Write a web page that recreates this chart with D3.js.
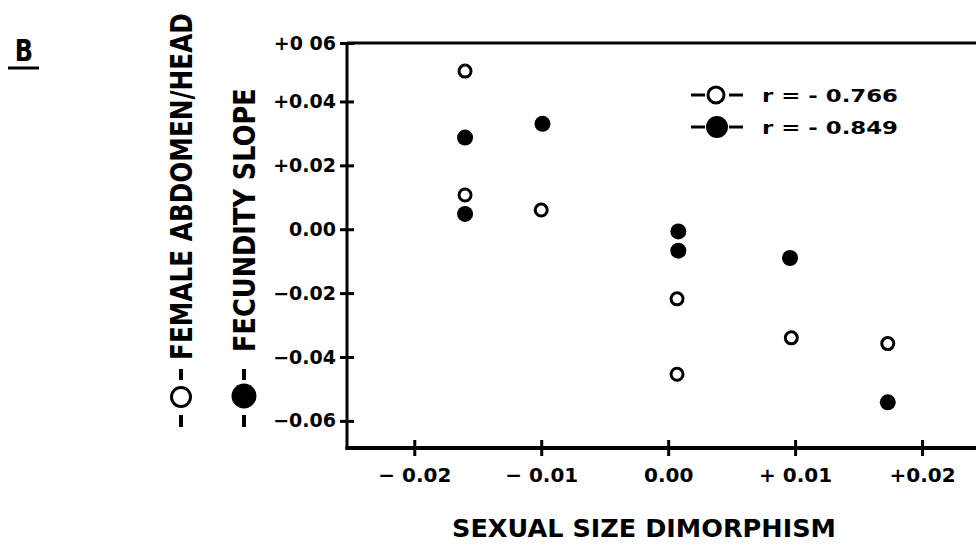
<!DOCTYPE html>
<html>
<head>
<meta charset="utf-8">
<script src="https://cdn.jsdelivr.net/npm/d3@7"></script>
<style>
  body { margin: 0; background: #fff; }
  text { font-family: "DejaVu Sans", sans-serif; font-weight: bold; fill: #000; }
</style>
</head>
<body>
<div id="graph"></div>
<script>
// values
const openX   = [-0.0160, -0.0160, -0.0100, 0.0007, 0.0007, 0.0097, 0.0173];
const openY   = [ 0.0495,  0.0107,  0.0060, -0.0218, -0.0454, -0.0340, -0.0358];
const filledX = [-0.0160, -0.0099, -0.0160, 0.0008, 0.0008, 0.0096, 0.0173];
const filledY = [ 0.0287,  0.0330,  0.0048, -0.0007, -0.0067, -0.0090, -0.0542];

const xTicks = [-0.02, -0.01, 0, 0.01, 0.02];
const xTickLabels = ["\u2212 0.02", "\u2212 0.01", "0.00", "+ 0.01", "+0.02"];
const yTicks = [0.06, 0.04, 0.02, 0, -0.02, -0.04, -0.06];
const yTickLabels = ["+0 06", "+0.04", "+0.02", "0.00", "\u22120.02", "\u22120.04", "\u22120.06"];
const legendLabels = ["r = - 0.766", "r = - 0.849"];

const width = 976, height = 547;
const margin = {top: 43, right: 0, bottom: 98, left: 347};
const plotW = width - margin.left - margin.right;
const plotH = height - margin.top - margin.bottom;

let svg = d3.select('#graph')
    .append("svg")
    .attr("width", width)
    .attr("height", height);

let g = svg.append("g")
    .attr("transform", `translate(${margin.left}, ${margin.top})`);

let x = d3.scaleLinear()
    .domain([-0.0253, 0.02425])
    .range([0, plotW]);

let y = d3.scaleLinear()
    .domain([-0.0688, 0.0583])
    .range([plotH, 0])
    .clamp(true);

// frame: top line and left axis
g.append("line")
    .attr("x1", 0).attr("x2", plotW)
    .attr("y1", 0).attr("y2", 0)
    .attr("stroke", "#000").attr("stroke-width", 3);

let yAxis = g.append("g")
    .call(d3.axisLeft(y).tickValues(yTicks).tickSize(7).tickPadding(4)
        .tickFormat((d, i) => yTickLabels[i]));
yAxis.select(".domain").remove();
yAxis.append("line")
    .attr("x1", 0).attr("x2", 0).attr("y1", 0).attr("y2", plotH + 1)
    .attr("stroke", "#000").attr("stroke-width", 3);
yAxis.selectAll(".tick line")
    .attr("x1", 7).attr("x2", -7)
    .attr("stroke-width", 3);
yAxis.selectAll(".tick text")
    .style("font-size", "19px")
    .style("font-family", "DejaVu Sans")
    .style("font-weight", "bold");

let xAxis = g.append("g")
    .attr("transform", `translate(0, ${plotH - 1})`)
    .call(d3.axisBottom(x).tickValues(xTicks).tickSize(8).tickPadding(12)
        .tickFormat((d, i) => xTickLabels[i]));
xAxis.select(".domain").remove();
xAxis.append("line")
    .attr("x1", -1.5).attr("x2", plotW).attr("y1", 0).attr("y2", 0)
    .attr("stroke", "#000").attr("stroke-width", 4);
xAxis.selectAll(".tick line")
    .attr("y1", -8).attr("y2", 8)
    .attr("stroke-width", 3);
xAxis.selectAll(".tick text")
    .style("font-size", "20px")
    .style("font-family", "DejaVu Sans")
    .style("font-weight", "bold");

// points
const openData = openX.map((d, i) => ({x: d, y: openY[i]}));
const filledData = filledX.map((d, i) => ({x: d, y: filledY[i]}));

g.selectAll(".open").data(openData).enter()
    .append("circle")
    .attr("class", "open")
    .attr("cx", d => x(d.x))
    .attr("cy", d => y(d.y))
    .attr("r", 6)
    .attr("fill", "#fff")
    .attr("stroke", "#000")
    .attr("stroke-width", 3);

g.selectAll(".filled").data(filledData).enter()
    .append("circle")
    .attr("class", "filled")
    .attr("cx", d => x(d.x))
    .attr("cy", d => y(d.y))
    .attr("r", 8)
    .attr("fill", "#000");

// legend
let legend = svg.append("g");
legendLabels.forEach(function(label, i) {
    let ly = 95 + i * 32;
    let item = legend.append("g").attr("transform", `translate(0, ${ly})`);
    item.append("line").attr("x1", 691).attr("x2", 705).attr("y1", 0).attr("y2", 0)
        .attr("stroke", "#000").attr("stroke-width", 3);
    item.append("line").attr("x1", 729).attr("x2", 743).attr("y1", 0).attr("y2", 0)
        .attr("stroke", "#000").attr("stroke-width", 3);
    if (i == 0) {
        item.append("circle").attr("cx", 716).attr("cy", 0).attr("r", 8)
            .attr("fill", "#fff").attr("stroke", "#000").attr("stroke-width", 3);
    } else {
        item.append("circle").attr("cx", 717).attr("cy", 0).attr("r", 11)
            .attr("fill", "#000");
    }
    item.append("text")
        .attr("x", 762).attr("y", 6.5)
        .attr("textLength", 136)
        .attr("lengthAdjust", "spacingAndGlyphs")
        .style("font-size", "18px")
        .text(label);
});

// panel label
svg.append("text")
    .attr("transform", "translate(24, 61) scale(0.8, 1)")
    .style("text-anchor", "middle")
    .style("font-size", "30px")
    .text("B");
svg.append("line")
    .attr("x1", 8).attr("x2", 39).attr("y1", 68).attr("y2", 68)
    .attr("stroke", "#000").attr("stroke-width", 3);

// y axis titles with their symbols, squeezed along their length
function yTitle(cx, label, top, bottom, filled) {
    let t = svg.append("text")
        .style("font-size", "30px")
        .text(label);
    let natural = t.node().getComputedTextLength();
    t.attr("transform", `translate(${cx + 11}, ${bottom}) rotate(-90) scale(${(bottom - top) / natural}, 1)`);
    svg.append("line").attr("x1", cx).attr("x2", cx).attr("y1", 369).attr("y2", 380)
        .attr("stroke", "#000").attr("stroke-width", 4);
    svg.append("line").attr("x1", cx).attr("x2", cx).attr("y1", 415).attr("y2", 427)
        .attr("stroke", "#000").attr("stroke-width", 4);
    if (filled) {
        svg.append("circle").attr("cx", cx).attr("cy", 396).attr("r", 12.5).attr("fill", "#000");
    } else {
        svg.append("circle").attr("cx", cx).attr("cy", 397).attr("r", 9.5)
            .attr("fill", "#fff").attr("stroke", "#000").attr("stroke-width", 3);
    }
}
yTitle(181, "FEMALE  ABDOMEN/HEAD", 13, 360, false);
yTitle(244, "FECUNDITY  SLOPE", 88, 352, true);

// x axis title
svg.append("text")
    .attr("x", 452).attr("y", 537)
    .attr("textLength", 384)
    .attr("lengthAdjust", "spacingAndGlyphs")
    .style("font-size", "24px")
    .text("SEXUAL  SIZE  DIMORPHISM");
</script>
</body>
</html>
